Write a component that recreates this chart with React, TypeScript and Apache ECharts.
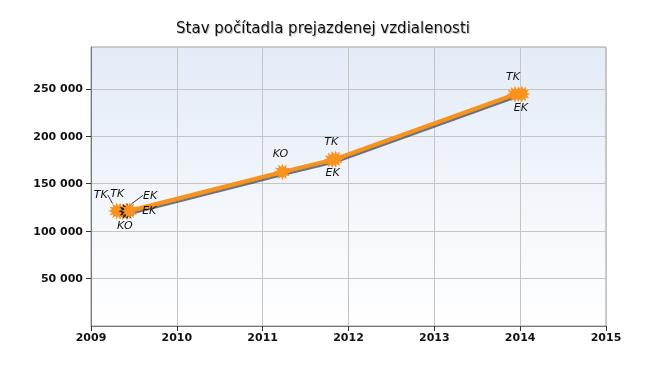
import React, { useEffect, useRef } from "react";
import * as echarts from "echarts";

const titleText = "Stav počítadla prejazdenej vzdialenosti";
const dates = [2009.3, 2009.34, 2009.37, 2009.42, 2009.45, 2011.23, 2011.81, 2011.85, 2013.94, 2014.02];
const odometer = [121300, 121000, 120500, 120800, 121500, 162400, 175100, 176000, 244200, 244500];
const eventLabels = ["TK", "TK", "KO", "EK", "EK", "KO", "TK", "EK", "TK", "EK"];
const xMin = 2009;
const xMax = 2015;
const yMin = 0;
const yMax = 294000;
const yStep = 50000;

function starPath(points: number, outer: number, inner: number): string {
  let d = "";
  const n = points * 2;
  for (let i = 0; i < n; i++) {
    const r = i % 2 === 0 ? outer : inner;
    const a = (Math.PI * 2 * i) / n - Math.PI / 2;
    const x = 50 + r * Math.cos(a);
    const y = 50 + r * Math.sin(a);
    d += (i === 0 ? "M" : "L") + x.toFixed(2) + " " + y.toFixed(2) + " ";
  }
  return "path://" + d + "Z";
}

const STAR = starPath(12, 50, 30);

const labelPlacement: Record<number, { position: string; dx: number; dy: number; line?: boolean }> = {
  0: { position: "top", dx: -16, dy: 2, line: true },
  1: { position: "top", dx: -3, dy: 0 },
  2: { position: "bottom", dx: 2, dy: 0 },
  3: { position: "top", dx: 23, dy: 2, line: true },
  4: { position: "right", dx: 0, dy: 0 },
  5: { position: "top", dx: -2, dy: 0 },
  6: { position: "top", dx: -1, dy: 0 },
  7: { position: "bottom", dx: -3, dy: 0 },
  8: { position: "top", dx: -2, dy: 0 },
  9: { position: "bottom", dx: -1, dy: 0 },
};

export default function App() {
  const ref = useRef<HTMLDivElement>(null);
  useEffect(() => {
    if (!ref.current) return;
    const chart = echarts.init(ref.current, undefined, { renderer: "svg" });
    const data = dates.map((d, i) => {
      const p = labelPlacement[i];
      const dark = i === 3;
      return {
        value: [d, odometer[i]],
        name: eventLabels[i],
        itemStyle: {
          color: dark ? "#1a1a1a" : "#F7931E",
        },
        label: {
          show: true,
          position: p.position,
          distance: p.position === "bottom" ? 0 : 4,
        },
        labelLine: { show: !!p.line, lineStyle: { color: "#333", width: 1 } },
      };
    });
    chart.setOption({
      animation: false,
      title: {
        text: titleText,
        left: 318,
        top: 15,
        textAlign: "center",
        textStyle: {
          fontFamily: "DejaVu Sans",
          fontSize: 15,
          fontWeight: "normal",
          color: "#111",
          textShadowColor: "rgba(0,0,0,0.25)",
          textShadowOffsetX: 1,
          textShadowOffsetY: 1,
          textShadowBlur: 1,
        },
      },
      grid: {
        left: 91,
        right: 47,
        top: 47,
        bottom: 44,
        show: true,
        borderColor: "#a0a0a0",
        borderWidth: 1,
        backgroundColor: {
          type: "linear",
          x: 0,
          y: 0,
          x2: 0,
          y2: 1,
          colorStops: [
            { offset: 0, color: "#e3ebf7" },
            { offset: 1, color: "#ffffff" },
          ],
        },
      },
      xAxis: {
        type: "value",
        min: xMin,
        max: xMax,
        interval: 1,
        axisLine: { show: true, lineStyle: { color: "#777", width: 1 } },
        axisTick: { show: true, length: 5, lineStyle: { color: "#333" } },
        splitLine: { show: true, lineStyle: { color: "#c4c4c4", width: 1 } },
        axisLabel: {
          margin: 6,
          fontFamily: "DejaVu Sans",
          fontWeight: "bold",
          fontSize: 11,
          color: "#111",
          formatter: (v: number) => String(v),
        },
      },
      yAxis: {
        type: "value",
        min: yMin,
        max: yMax,
        interval: yStep,
        axisLine: { show: true, lineStyle: { color: "#777", width: 1 } },
        axisTick: { show: true, length: 5, lineStyle: { color: "#333" } },
        splitLine: { show: true, lineStyle: { color: "#c4c4c4", width: 1 } },
        axisLabel: {
          margin: 8,
          showMinLabel: false,
          showMaxLabel: false,
          fontFamily: "DejaVu Sans",
          fontWeight: "bold",
          fontSize: 11,
          color: "#111",
          formatter: (v: number) =>
            v === 0 || v % yStep !== 0 ? "" : String(v).replace(/\B(?=(\d{3})+(?!\d))/g, " "),
        },
      },
      series: [
        {
          type: "line",
          data,
          symbol: STAR,
          symbolSize: 17,
          lineStyle: {
            color: "#F7931E",
            width: 4,
            shadowColor: "rgba(60,60,60,0.7)",
            shadowOffsetX: 1,
            shadowOffsetY: 2,
            shadowBlur: 1,
          },
          itemStyle: { color: "#F7931E" },
          label: {
            show: true,
            formatter: (p: any) => p.name,
            fontFamily: "DejaVu Sans",
            fontStyle: "italic",
            fontSize: 11,
            color: "#111",
          },
          labelLayout: (params: any) => {
            const p = labelPlacement[params.dataIndex];
            return { dx: p.dx, dy: p.dy };
          },
          z: 3,
        },
      ],
    });
    return () => chart.dispose();
  }, []);
  return <div ref={ref} style={{ position: "fixed", left: 0, top: 0, width: 653, height: 370 }} />;
}
